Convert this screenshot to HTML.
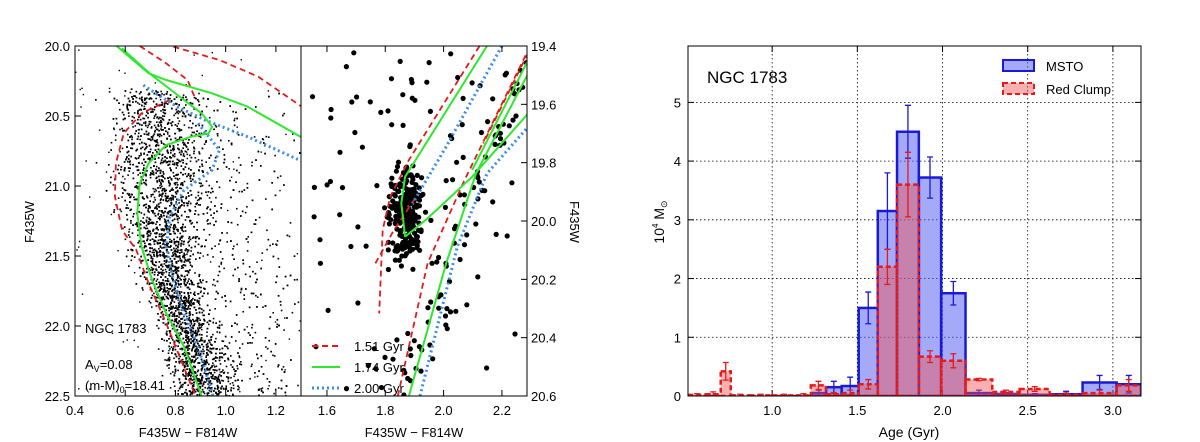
<!DOCTYPE html>
<html><head><meta charset="utf-8"><style>
body{margin:0;background:#fff}
svg{display:block;font-family:"Liberation Sans","DejaVu Sans",sans-serif}
</style></head><body>
<svg id="fig" width="1200" height="442" viewBox="0 0 1200 442"></svg>
<script>
// ---------- Histogram data ----------
const msEdges=[1.233,1.316,1.408,1.508,1.620,1.733,1.861,1.992,2.135,2.292,2.453,2.629,2.822,3.022,3.165];
const msVals=[0.05,0.15,0.17,1.5,3.15,4.5,3.72,1.75,0.05,0.03,0.02,0.03,0.23,0.2];
const msErr=[0.05,0.1,0.15,0.27,0.65,0.45,0.35,0.2,0.05,0.03,0.02,0.05,0.12,0.15];
const rcEdges=[0.508,0.61,0.698,0.757,0.865,1.0,1.14,1.227,1.316,1.408,1.508,1.620,1.733,1.861,1.992,2.135,2.292,2.453,2.629,2.822,3.022,3.165];
const rcVals=[0.02,0.03,0.42,0.01,0.01,0.01,0.01,0.18,0.03,0.05,0.2,2.2,3.6,0.67,0.6,0.28,0.07,0.12,0.02,0.05,0.18];
const rcErr=[0.02,0.04,0.15,0.02,0.02,0.02,0.03,0.07,0.03,0.05,0.08,0.3,0.55,0.1,0.12,0.02,0.03,0.04,0.03,0.05,0.1];
const histXTicks=[1.0,1.5,2.0,2.5,3.0];
const histYTicks=[0,1,2,3,4,5];
// ---------- CMD isochrones (color, mag) ----------
const isoLeftGreen=[[[0.566,20.0],[0.693,20.195],[0.763,20.243],[0.946,20.338],[1.087,20.433],[1.30,20.65]],
 [[0.587,20.017],[0.70,20.2],[0.834,20.386],[0.904,20.481],[0.946,20.576],[0.932,20.624],[0.862,20.648],[0.763,20.707],[0.693,20.838],[0.658,20.981],[0.648,21.195],[0.665,21.433],[0.707,21.671],[0.763,21.91],[0.834,22.148],[0.904,22.5]]];
const isoLeftRed=[[[0.658,20.0],[0.763,20.124],[0.848,20.243],[0.876,20.362]],
 [[0.792,20.005],[0.975,20.1],[1.13,20.219],[1.30,20.43]],
 [[0.777,20.386],[0.665,20.481],[0.594,20.624],[0.563,20.838],[0.559,21.076],[0.587,21.314],[0.644,21.457],[0.693,21.695],[0.763,21.981],[0.88,22.5]]];
const isoLeftBlue=[[[0.672,20.279],[0.721,20.338],[0.806,20.433],[0.918,20.529],[1.087,20.648],[1.30,20.82]],
 [[0.89,20.552],[0.975,20.743],[0.946,20.886],[0.834,21.029],[0.777,21.219],[0.763,21.433],[0.792,21.671],[0.834,21.91],[0.89,22.148],[0.95,22.5]]];
const isoRightGreen=[[[2.149,19.4],[1.868,19.848],[1.855,19.939],[1.868,20.054]],
 [[1.868,20.054],[1.945,19.991],[2.098,19.848],[2.29,19.631]],
 [[1.881,20.6],[2.009,20.145],[2.111,19.837],[2.29,19.494]],
 [[2.098,19.825],[2.29,19.448]]];
const isoRightRed=[[[2.123,19.4],[1.881,19.791],[1.817,19.917],[1.791,20.031],[1.779,20.317]],
 [[1.843,20.6],[1.945,20.145],[2.072,19.859],[2.29,19.414]],
 [[2.29,19.423],[2.136,19.734]],
 [[1.766,20.145],[1.83,20.031],[1.906,19.917]]];
const isoRightBlue=[[[2.2,19.4],[2.009,19.745],[1.894,19.939]],
 [[1.919,20.6],[2.047,20.088],[2.149,19.837],[2.29,19.677]]];
// ridge of main sequence (mag, color, spread) for star field
const ridgeMag=[20.3,20.6,20.9,21.2,21.5,21.8,22.1,22.5];
const ridgeCol=[0.70,0.72,0.73,0.74,0.76,0.80,0.86,0.92];
const ridgeSpread=[0.09,0.10,0.10,0.09,0.07,0.06,0.06,0.07];

const NS="http://www.w3.org/2000/svg";
const svg=document.getElementById('fig');
function el(tag,attrs,parent){const e=document.createElementNS(NS,tag);for(const k in attrs)e.setAttribute(k,attrs[k]);(parent||svg).appendChild(e);return e;}
function txt(x,y,s,attrs,parent){const t=el('text',Object.assign({x:x,y:y,'font-size':13,fill:'#000'},attrs||{}),parent);t.textContent=s;return t;}
let seed=12345;function rnd(){seed=(seed*1103515245+12345)%2147483648;return seed/2147483648;}
function gauss(){return (rnd()+rnd()+rnd()-1.5)/0.5;}

const L={x0:75,x1:301,y0:46,y1:396,cmin:0.4,cmax:1.3,mmin:20,mmax:22.5};
const R={x0:301,x1:527,y0:46,y1:396,cmin:1.511,cmax:2.286,mmin:19.4,mmax:20.6};
function sx(P,c){return P.x0+(c-P.cmin)/(P.cmax-P.cmin)*(P.x1-P.x0);}
function sy(P,m){return P.y0+(m-P.mmin)/(P.mmax-P.mmin)*(P.y1-P.y0);}
function clip(P,id){const cp=el('clipPath',{id:id});el('rect',{x:P.x0,y:P.y0,width:P.x1-P.x0,height:P.y1-P.y0},cp);}
clip(L,'cl');clip(R,'cr');
const gL=el('g',{'clip-path':'url(#cl)'});


function interp(m){for(let i=0;i<ridgeMag.length-1;i++){if(m<=ridgeMag[i+1]){const f=(m-ridgeMag[i])/(ridgeMag[i+1]-ridgeMag[i]);return [ridgeCol[i]+f*(ridgeCol[i+1]-ridgeCol[i]),ridgeSpread[i]+f*(ridgeSpread[i+1]-ridgeSpread[i])];}}return [ridgeCol[ridgeCol.length-1],ridgeSpread[ridgeSpread.length-1]];}
for(let i=0;i<5200;i++){const m=20.3+Math.pow(rnd(),0.85)*2.2;const [c,s]=interp(m);let col=c+gauss()*s*0.9;
 if(rnd()<0.2)col=c+Math.abs(gauss())*0.3;
 el('rect',{x:sx(L,col).toFixed(1),y:sy(L,m).toFixed(1),width:1.6,height:1.6,fill:'#000'},gL);}
for(let i=0;i<100;i++){el('rect',{x:sx(L,0.4+rnd()*0.9).toFixed(1),y:sy(L,20+rnd()*2.5).toFixed(1),width:1.4,height:1.4,fill:'#000'},gL);}
function drawIso(P,g,sets,color,dash,w,name){sets.forEach(pts=>{const p=el('polyline',{points:pts.map(q=>sx(P,q[0]).toFixed(1)+','+sy(P,q[1]).toFixed(1)).join(' '),fill:'none',stroke:color,'stroke-width':w,'stroke-dasharray':dash},g);
 
 });}
drawIso(L,gL,isoLeftRed,'#e41a1c','6,4',1.8,'isochrone-1-51-gyr');
drawIso(L,gL,isoLeftBlue,'#3a8ee6','2,3',3,'isochrone-2-00-gyr');
drawIso(L,gL,isoLeftGreen,'#2ee82e','',2,'isochrone-1-74-gyr');

const gR=el('g',{'clip-path':'url(#cr)'});


for(let i=0;i<240;i++){const c=1.87+gauss()*0.028,m=19.98+gauss()*0.075;el('circle',{cx:sx(R,c).toFixed(1),cy:sy(R,m).toFixed(1),r:2.6,fill:'#000'},gR);}
for(let i=0;i<95;i++){const c=1.55+rnd()*0.7,m=19.4+rnd()*1.2;el('circle',{cx:sx(R,c).toFixed(1),cy:sy(R,m).toFixed(1),r:2.6,fill:'#000'},gR);}
for(let i=0;i<60;i++){const t=rnd();const c=1.87+t*0.4+gauss()*0.03,m=20.6-t*1.15;el('circle',{cx:sx(R,c).toFixed(1),cy:sy(R,m).toFixed(1),r:2.6,fill:'#000'},gR);}
drawIso(R,gR,isoRightRed,'#e41a1c','6,4',1.8,'isochrone-1-51-gyr');
drawIso(R,gR,isoRightBlue,'#3a8ee6','2,3',3,'isochrone-2-00-gyr');
drawIso(R,gR,isoRightGreen,'#2ee82e','',2,'isochrone-1-74-gyr');

function frame(P,name){const r=el('rect',{x:P.x0,y:P.y0,width:P.x1-P.x0,height:P.y1-P.y0,fill:'none',stroke:'#000','stroke-width':1});
 
 }
frame(L,'left-cmd-frame');frame(R,'right-cmd-frame');
const lxt=[0.4,0.6,0.8,1.0,1.2],lyt=[20.0,20.5,21.0,21.5,22.0,22.5];
lxt.forEach(v=>{const x=sx(L,v);el('line',{x1:x,x2:x,y1:L.y1,y2:L.y1-6,stroke:'#000'});el('line',{x1:x,x2:x,y1:L.y0,y2:L.y0+6,stroke:'#000'});
 const t=txt(x,415,v.toFixed(1),{'text-anchor':'middle'});});
lyt.forEach(v=>{const y=sy(L,v);el('line',{x1:L.x0,x2:L.x0+6,y1:y,y2:y,stroke:'#000'});
 const t=txt(70,y+5,v.toFixed(1),{'text-anchor':'end'});});
const rxt=[1.6,1.8,2.0,2.2],ryt=[19.4,19.6,19.8,20.0,20.2,20.4,20.6];
rxt.forEach(v=>{const x=sx(R,v);el('line',{x1:x,x2:x,y1:R.y1,y2:R.y1-6,stroke:'#000'});el('line',{x1:x,x2:x,y1:R.y0,y2:R.y0+6,stroke:'#000'});
 const t=txt(x,415,v.toFixed(1),{'text-anchor':'middle'});});
ryt.forEach(v=>{const y=sy(R,v);el('line',{x1:R.x1,x2:R.x1-6,y1:y,y2:y,stroke:'#000'});
 const t=txt(531,y+5,v.toFixed(1),{'text-anchor':'start'});});
</script>
<script>
const fig=document.getElementById('fig');
function T(x,y,s,a,name){const t=document.createElementNS("http://www.w3.org/2000/svg",'text');t.setAttribute('x',x);t.setAttribute('y',y);t.setAttribute('font-size',13);for(const k in (a||{}))t.setAttribute(k,a[k]);t.textContent=s;fig.appendChild(t);
 
 return t;}
T(188,437,'F435W − F814W',{'text-anchor':'middle'},'left-x-axis-title');
T(414,437,'F435W − F814W',{'text-anchor':'middle'},'right-x-axis-title');
T(34,222,'F435W',{'text-anchor':'middle',transform:'rotate(-90 34 222)'},'left-y-axis-title');
T(570,222,'F435W',{'text-anchor':'middle',transform:'rotate(90 570 222)'},'right-y-axis-title');
T(85,333,'NGC 1783',{},'cluster-label');
const av=T(85,369,'A',{},'extinction-label');av.innerHTML='A<tspan font-size="9" dy="3">V</tspan><tspan dy="-3">=0.08</tspan>';
const dm=T(85,390,'',{},'distance-modulus-label');dm.innerHTML='(m-M)<tspan font-size="9" dy="3">0</tspan><tspan dy="-3">=18.41</tspan>';
const legs=[['#e41a1c','6,4','1.51 Gyr',351],['#2ee82e','','1.74 Gyr',372],['#3a8ee6','2,3','2.00 Gyr',393]];
legs.forEach(l=>{const ln=document.createElementNS("http://www.w3.org/2000/svg",'line');ln.setAttribute('x1',312);ln.setAttribute('x2',340);ln.setAttribute('y1',l[3]-5);ln.setAttribute('y2',l[3]-5);ln.setAttribute('stroke',l[0]);ln.setAttribute('stroke-width',l[1]==='2,3'?3:2);if(l[1])ln.setAttribute('stroke-dasharray',l[1]);fig.appendChild(ln);
 
 
 T(354,l[3],l[2],{},'legend-entry');});

const H={x0:688,x1:1141,y0:46,y1:396,amin:0.506,amax:3.165,vmax:5.96};
const hx=a=>H.x0+(a-H.amin)/(H.amax-H.amin)*(H.x1-H.x0);
const hy=v=>H.y1-v/H.vmax*(H.y1-H.y0);
const NSs="http://www.w3.org/2000/svg";
function E(tag,a){const e=document.createElementNS(NSs,tag);for(const k in a)e.setAttribute(k,a[k]);fig.appendChild(e);return e;}
const cph=document.createElementNS(NSs,'clipPath');cph.id='ch';fig.appendChild(cph);
const cr=document.createElementNS(NSs,'rect');cr.setAttribute('x',H.x0);cr.setAttribute('y',H.y0);cr.setAttribute('width',H.x1-H.x0);cr.setAttribute('height',H.y1-H.y0);cph.appendChild(cr);
histXTicks.forEach(v=>{const g=E('line',{x1:hx(v),x2:hx(v),y1:H.y0,y2:H.y1,stroke:'#000','stroke-width':0.8,'stroke-dasharray':'1.5,2.5'});
 
 T(hx(v),415,v.toFixed(1),{'text-anchor':'middle'},'hist-x-tick-label');
 E('line',{x1:hx(v),x2:hx(v),y1:H.y1,y2:H.y1-6,stroke:'#000'});E('line',{x1:hx(v),x2:hx(v),y1:H.y0,y2:H.y0+6,stroke:'#000'});});
histYTicks.forEach(v=>{if(v>0){const g=E('line',{x1:H.x0,x2:H.x1,y1:hy(v),y2:hy(v),stroke:'#000','stroke-width':0.8,'stroke-dasharray':'1.5,2.5'});
 }
 T(681,hy(v)+5,String(v),{'text-anchor':'end'},'hist-y-tick-label');
 E('line',{x1:H.x0,x2:H.x0+6,y1:hy(v),y2:hy(v),stroke:'#000'});E('line',{x1:H.x1,x2:H.x1-6,y1:hy(v),y2:hy(v),stroke:'#000'});});
function bars(edges,vals,errs,fill,stroke,dash,name,ecol){
 const g=document.createElementNS(NSs,'g');g.setAttribute('clip-path','url(#ch)');fig.appendChild(g);
 vals.forEach((v,i)=>{const x0=hx(edges[i]),x1=hx(edges[i+1]);const r=document.createElementNS(NSs,'rect');
  r.setAttribute('x',x0);r.setAttribute('width',x1-x0);r.setAttribute('y',hy(v));r.setAttribute('height',H.y1-hy(v));
  r.setAttribute('fill',fill);r.setAttribute('stroke',stroke);r.setAttribute('stroke-width',2.5);if(dash)r.setAttribute('stroke-dasharray',dash);g.appendChild(r);
  
  
  const xc=(x0+x1)/2,lo=hy(Math.max(0,v-errs[i])),hi=hy(v+errs[i]);
  const l=document.createElementNS(NSs,'path');l.setAttribute('d',`M${xc},${lo}V${hi}M${xc-3},${lo}H${xc+3}M${xc-3},${hi}H${xc+3}`);l.setAttribute('stroke',ecol);l.setAttribute('stroke-width',1.3);l.setAttribute('fill','none');g.appendChild(l);
  
  });}
bars(msEdges,msVals,msErr,'rgba(90,100,240,0.55)','#1a1ad6','','msto-bar','#1a1ad6');
bars(rcEdges,rcVals,rcErr,'rgba(240,80,80,0.45)','#e41a1c','5,3','red-clump-bar','#e41a1c');
const hf=E('rect',{x:H.x0,y:H.y0,width:H.x1-H.x0,height:H.y1-H.y0,fill:'none',stroke:'#000','stroke-width':1});

T(707,83,'NGC 1783',{'font-size':17},'histogram-title');
T(909,437,'Age (Gyr)',{'text-anchor':'middle','font-size':14},'hist-x-axis-title');
const yt=T(664,222,'',{'text-anchor':'middle','font-size':14,transform:'rotate(-90 664 222)'},'hist-y-axis-title');
yt.innerHTML='10<tspan font-size="8" dy="-6">4</tspan><tspan dy="6"> M</tspan><tspan font-size="9" dy="3">⊙</tspan>';
const p1=E('rect',{x:1003,y:60,width:31,height:11,fill:'rgba(90,100,240,0.55)',stroke:'#1a1ad6','stroke-width':2});

const p2=E('rect',{x:1003,y:83,width:31,height:11,fill:'rgba(240,80,80,0.45)',stroke:'#e41a1c','stroke-width':2,'stroke-dasharray':'5,3'});

T(1046,71,'MSTO',{},'legend-entry-msto');
T(1046,94,'Red Clump',{},'legend-entry-red-clump');
</script>
</body></html>
